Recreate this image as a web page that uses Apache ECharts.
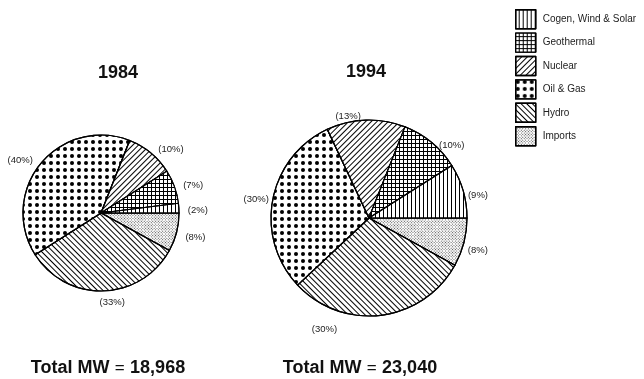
<!DOCTYPE html>
<html>
<head>
<meta charset="utf-8">
<script src="https://cdn.jsdelivr.net/npm/echarts@6/dist/echarts.min.js"></script>
<style>
  html, body { margin: 0; padding: 0; background: #fff; }
  #box { width: 644px; height: 379px; }
</style>
</head>
<body>
<div id="box"></div>
<script>
// 数据 - slices listed clockwise starting at 3 o'clock
var sources = ['Imports', 'Hydro', 'Oil & Gas', 'Nuclear', 'Geothermal', 'Cogen, Wind & Solar'];
var share1984 = [8, 33, 40, 10, 7, 2];
var share1994 = [8, 30, 30, 13, 10, 9];
var legendOrder = ['Cogen, Wind & Solar', 'Geothermal', 'Nuclear', 'Oil & Gas', 'Hydro', 'Imports'];
var years = ['1984', '1994'];
var totals = ['18,968', '23,040'];

// hatch patterns like the printed chart
var patterns = {
  'Cogen, Wind & Solar': { symbol: 'rect', dashArrayX: [1, 0], dashArrayY: [1, 2.6], rotation: Math.PI / 2, color: '#000' },
  'Geothermal': { symbol: 'rect', dashArrayX: [2.6, 1], dashArrayY: [2.6, 1], color: '#fff', backgroundColor: '#000' },
  'Nuclear': { symbol: 'rect', dashArrayX: [1, 0], dashArrayY: [1, 2.4], rotation: -Math.PI / 4, color: '#000' },
  'Oil & Gas': { symbol: 'circle', dashArrayX: [3.2, 2.6], dashArrayY: [3.2, 2.6], color: '#000' },
  'Hydro': { symbol: 'rect', dashArrayX: [1, 0], dashArrayY: [1, 2.2], rotation: Math.PI / 4, color: '#000' },
  'Imports': { symbol: 'rect', dashArrayX: [1, 1], dashArrayY: [1, 1], rotation: Math.PI / 4, color: '#555' }
};

// small hand nudges so the % labels sit where the printed ones are (by series, then slice index)
var labelNudge = [
  { 0: [0, 4], 1: [-9, 7], 5: [0, 3] },
  { 0: [-5, 7], 1: [-75, 10], 2: [5, 0], 4: [0, 6], 5: [-4, 6] }
];

function pieData(values) {
  return sources.map(function (name, i) {
    return {
      name: name,
      value: values[i],
      itemStyle: { color: '#fff', decal: patterns[name] }
    };
  });
}

function pieSeries(values, center, radius) {
  return {
    type: 'pie',
    center: center,
    radius: radius,
    startAngle: 0,
    clockwise: true,
    avoidLabelOverlap: false,
    itemStyle: { borderColor: '#000', borderWidth: 1.2 },
    label: {
      show: true,
      position: 'outside',
      formatter: '({c}%)',
      fontFamily: 'Liberation Sans, Arial, sans-serif',
      fontSize: 9.5,
      color: '#222'
    },
    labelLine: { show: false, length: 4, length2: 0 },
    labelLayout: function (p) {
      var n = labelNudge[p.seriesIndex][p.dataIndex];
      return n ? { dx: n[0], dy: n[1] } : {};
    },
    emphasis: { disabled: true },
    data: pieData(values)
  };
}

var myChart = echarts.init(document.getElementById('box'));
var font = 'Liberation Sans, Arial, sans-serif';

var option = {
  animation: false,
  legend: {
    orient: 'vertical',
    left: 510,
    top: 4,
    itemWidth: 20,
    itemHeight: 19,
    itemGap: 3,
    icon: 'rect',
    data: legendOrder,
    itemStyle: { borderColor: '#000', borderWidth: 1.4 },
    textStyle: { fontFamily: font, fontSize: 10, color: '#222', padding: [0, 0, 0, 2] }
  },
  graphic: [
    { type: 'text', style: { text: years[0], x: 118, y: 73, textAlign: 'center', textVerticalAlign: 'middle', font: 'bold 18px ' + font, fill: '#111' } },
    { type: 'text', style: { text: years[1], x: 366, y: 72, textAlign: 'center', textVerticalAlign: 'middle', font: 'bold 18px ' + font, fill: '#111' } },
    {
      type: 'text',
      style: {
        text: '{b|Total MW} {e|=} {b|' + totals[0] + '}', x: 108, y: 368, textAlign: 'center', textVerticalAlign: 'middle',
        rich: { b: { font: 'bold 18px ' + font, fill: '#111' }, e: { font: '17px ' + font, fill: '#111', padding: [0, 2] } }
      }
    },
    {
      type: 'text',
      style: {
        text: '{b|Total MW} {e|=} {b|' + totals[1] + '}', x: 360, y: 368, textAlign: 'center', textVerticalAlign: 'middle',
        rich: { b: { font: 'bold 18px ' + font, fill: '#111' }, e: { font: '17px ' + font, fill: '#111', padding: [0, 2] } }
      }
    }
  ],
  series: [
    pieSeries(share1984, [101, 213], 78),
    pieSeries(share1994, [369, 218], 98)
  ]
};

myChart.setOption(option);
</script>
</body>
</html>
